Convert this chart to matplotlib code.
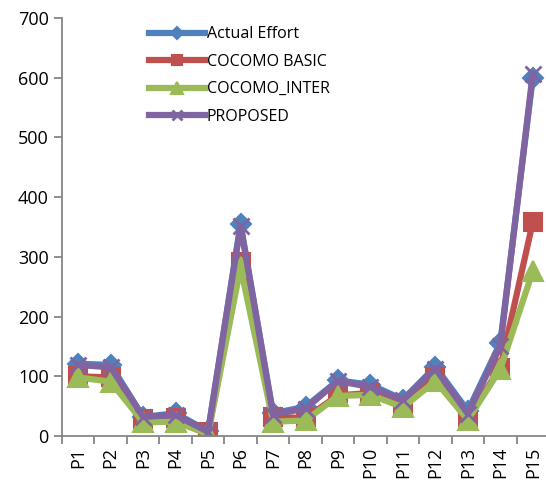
import numpy as np
import matplotlib
matplotlib.use("Agg")
import matplotlib.pyplot as plt
from matplotlib.ticker import FixedLocator

plt.rcParams['font.family'] = ['Open Sans', 'DejaVu Sans']

projects = ['P1', 'P2', 'P3', 'P4', 'P5', 'P6', 'P7', 'P8', 'P9', 'P10',
            'P11', 'P12', 'P13', 'P14', 'P15']
actual = [121, 119, 32, 38, 8, 355, 38, 49, 93, 86, 61, 116, 42, 156, 600]
cocomo_basic = [100, 98, 28, 30, 6, 291, 32, 30, 68, 72, 50, 98, 31, 114, 358]
cocomo_inter = [98, 91, 23, 24, 3, 283, 24, 26, 67, 69, 48, 92, 27, 112, 276]
proposed = [119, 115, 32, 35, 7, 352, 36, 46, 92, 82, 60, 113, 37, 150, 607]

series = [
    ("Actual Effort", actual, '#4F81BD', 'D', 10),
    ("COCOMO BASIC", cocomo_basic, '#C0504D', 's', 13),
    ("COCOMO_INTER", cocomo_inter, '#9BBB59', '^', 14),
    ("PROPOSED", proposed, '#8064A2', 'x', 12),
]

fig = plt.figure(figsize=(5.46, 4.84), dpi=100)
ax = fig.add_axes([62 / 546, 48 / 484, 487 / 546, 418 / 484])

x = np.arange(len(projects))
for name, vals, col, mk, ms in series:
    ax.plot(x, vals, color=col, lw=4.5, marker=mk, markersize=ms,
            markeredgewidth=1.5 if mk != 'x' else 2, label=name,
            solid_joinstyle='round')

ax.set_xlim(-0.5, len(projects) - 0.5)
ax.set_ylim(0, 700)
ax.set_yticks(range(0, 701, 100))
ax.set_xticks(x)
ax.set_xticklabels(projects, rotation=90, fontsize=13)
ax.xaxis.set_minor_locator(FixedLocator(np.arange(-0.5, len(projects), 1.0)))
ax.tick_params(axis='x', which='major', length=0, pad=8)
ax.tick_params(axis='x', which='minor', length=6, color='#868686', width=1.3)
ax.tick_params(axis='y', length=6, color='#868686', width=1.3, labelsize=13)

for s in ['top', 'right']:
    ax.spines[s].set_visible(False)
for s in ['left', 'bottom']:
    ax.spines[s].set_color('#868686')
    ax.spines[s].set_linewidth(1.3)

leg = ax.legend(loc='upper left', bbox_to_anchor=(0.15, 1.015), frameon=False,
                fontsize=11.5, handlelength=3.5, labelspacing=0.72,
                handletextpad=0.1, markerscale=0.6)

fig.savefig("out.png", dpi=100)
